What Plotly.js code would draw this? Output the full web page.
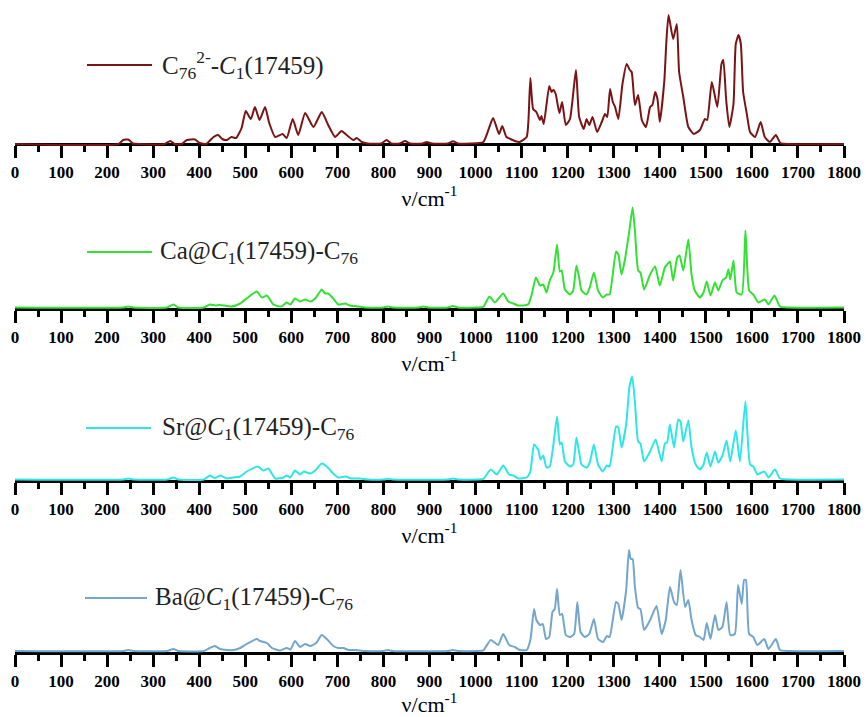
<!DOCTYPE html>
<html>
<head>
<meta charset="utf-8">
<script src="https://cdn.plot.ly/plotly-3.0.1.min.js"></script>
<style>html,body{margin:0;padding:0;background:#fff;}#chart{width:866px;height:717px;}</style>
</head>
<body>
<div id="chart"></div>
<script>
// ---- data (wavenumber in cm^-1, intensity in arbitrary units) ----
const seriesNames = [
  "C<sub>76</sub><sup>2-</sup>-<i>C</i><sub>1</sub>(17459)",
  "Ca@<i>C</i><sub>1</sub>(17459)-C<sub>76</sub>",
  "Sr@<i>C</i><sub>1</sub>(17459)-C<sub>76</sub>",
  "Ba@<i>C</i><sub>1</sub>(17459)-C<sub>76</sub>"
];
const seriesColors = ["#7a1414", "#33e033", "#2ee6e6", "#72a6cc"];

const xC76 = [0,225,235,246,256,270,325,337,347,362,373,391,401,415,431,441,450,460,470,480,492,501,512,521,531,543,552,565,581,590,603,615,630,648,666,680,695,709,720,735,742,753,765,795,807,817,835,847,858,885,894,905,940,951,962,988,1017,1038,1051,1058,1067,1076,1085,1096,1111,1115,1119,1125,1132,1140,1143,1148,1160,1165,1169,1174,1182,1188,1196,1205,1218,1225,1235,1241,1247,1254,1264,1274,1281,1286,1292,1298,1303,1310,1319,1328,1335,1339,1346,1353,1361,1370,1379,1384,1390,1395,1400,1410,1414,1419,1429,1437,1442,1451,1462,1474,1487,1498,1503,1513,1525,1534,1538,1544,1551,1560,1565,1571,1576,1581,1589,1596,1607,1619,1628,1639,1652,1662,1680,1800];
const yC76 = [0,0,4,4.5,0.5,0,0,3,0,0,4,4.5,1,0,7,9,5,4,7,6,16,33,25,37,24,37,21,7,10,6,25,9,31,17,32,19,7,13,9,4,6,2,0.5,0.5,4,0.5,0.5,3,0.5,0.5,2,0.5,0.5,2.7,0.5,0.5,2,26,10,18,7,5,3,2,7,25,66,35,32,24,28,20,58,52,54,50,31,42,19,25,74,27,15,25,19,27,12,22,30,27,55,42,37,25,60,80,74,72,39,49,24,17,37,39,52,45,22,64,100,129,105,120,72,47,17,10,14,25,24,62,37,80,84,45,17,40,100,109,100,52,30,12,7,22,7,2,9,1,0,0];

const xCa = [0,235,246,257,330,344,355,410,423,435,445,470,489,503,525,536,547,561,578,590,598,608,619,630,641,652,666,673,680,691,702,717,727,745,760,800,810,820,877,887,897,940,951,962,1000,1017,1030,1042,1060,1071,1082,1093,1114,1122,1131,1140,1147,1154,1161,1169,1177,1183,1187,1194,1205,1212,1219,1225,1230,1241,1248,1257,1266,1276,1285,1291,1305,1310,1317,1324,1334,1341,1346,1353,1358,1366,1379,1390,1400,1411,1416,1422,1429,1438,1443,1451,1462,1469,1476,1487,1495,1502,1510,1520,1527,1536,1544,1549,1553,1560,1567,1578,1586,1594,1603,1614,1628,1636,1649,1661,1680,1800];
const yCa = [0,0,1,0,0,3,0,0,3,2,2.5,1,4,9,16,10,12,3,1,5,3,9,6,8,6,9,18,14,14,9,3,4,2,1,0,0,1,0,0,1,0,0,1.5,0,0,0.7,11,5,14,6,4,2,3,13,30,22,23,15,27,35,63,36,37,18,13,17,42,30,17,13,20,35,17,10,13,13,56,53,33,47,77,100,77,37,35,18,33,41,22,40,43,46,27,50,52,37,68,33,17,10,15,26,12,25,17,27,30,38,28,47,15,13,77,17,13,5,8,3,12,1,0,0];

const xSr = [0,235,246,257,330,344,355,410,423,434,446,460,474,489,503,528,539,550,565,583,590,598,608,619,627,641,652,666,677,691,702,717,730,750,765,800,810,820,940,951,962,1005,1017,1033,1046,1060,1073,1082,1093,1111,1119,1127,1136,1141,1147,1154,1161,1169,1177,1183,1187,1194,1205,1212,1219,1225,1230,1241,1248,1257,1266,1276,1285,1291,1305,1310,1317,1327,1334,1340,1346,1353,1358,1366,1379,1391,1404,1411,1416,1422,1431,1440,1445,1451,1462,1469,1478,1487,1495,1502,1510,1520,1527,1536,1545,1553,1565,1574,1586,1596,1603,1612,1627,1636,1650,1661,1680,1800];
const ySr = [0,0,1,0,0,2,0,0,4,1.5,4,1,2,3,8,13,9,11,1,2,4,2,9,5,8,6,9,16,13,6,2,3,1,1,0,0,0.7,0,0,1,0,0,0.7,10,5,14,5,4,1,2,8,35,30,20,24,12,13,35,63,35,37,18,13,15,42,27,15,12,17,35,15,8,14,13,53,52,32,55,92,103,78,38,36,18,28,40,18,36,37,55,32,60,58,38,59,32,15,10,15,27,13,28,17,24,39,18,49,18,78,15,13,5,8,2,10,1,0,0];

const xBa = [0,235,246,257,330,344,355,410,423,434,445,460,475,489,503,525,532,547,558,575,590,598,608,619,630,641,654,666,677,691,702,713,725,740,760,800,810,820,940,951,962,1005,1017,1033,1049,1060,1073,1085,1096,1111,1119,1127,1132,1140,1146,1153,1160,1167,1172,1177,1183,1188,1196,1205,1214,1221,1228,1237,1247,1257,1266,1277,1285,1291,1305,1310,1317,1327,1333,1337,1341,1346,1353,1358,1366,1379,1393,1404,1413,1422,1431,1437,1445,1455,1462,1469,1478,1487,1495,1502,1510,1520,1527,1536,1545,1553,1563,1570,1578,1583,1587,1594,1603,1612,1627,1636,1652,1661,1680,1800];
const yBa = [0,0,1,0,0,2,0,0,3,5,2,1,1,3,7,12,10,8,3,0.5,3,1.5,10,4,7,5,8,16,12,5,3,3,1,1,0,0,1,0,0,1,0,0,0.7,11,6,17,6,4,1,1,11,42,31,26,27,12,14,39,42,62,36,37,16,14,17,49,19,14,17,32,12,9,15,14,49,47,31,61,101,92,92,64,43,42,21,31,45,17,31,64,49,46,81,44,51,31,16,14,11,28,12,36,21,24,49,16,17,66,47,71,71,17,14,6,12,2,12,1,0,0];

const xTickVals = [0,100,200,300,400,500,600,700,800,900,1000,1100,1200,1300,1400,1500,1600,1700,1800];
const xTickText = xTickVals.map(String);
const xTitle = "ν/cm<sup>-1</sup>";

// ---- layout helpers ----
const W = 866, H = 717;
const ML = 15, MR = 22;
const axisPx = [144, 309, 481, 652.5];   // pixel row of each panel's x axis
const zeroOff = [0, 1.5, 1.5, 1.5];       // spectrum baseline offset above the axis
const legendY = [65, 252, 428, 598];
const legLine = [[87,152],[87,152],[86,151],[85,147]];
const legTextX = [160, 158, 160, 153];
const fy = px => 1 - px / H;
const fx = px => (px - ML) / (W - ML - MR);
const FONT = "Liberation Serif";

const xs = [xC76, xCa, xSr, xBa];
const ys = [yC76, yCa, ySr, yBa];

const traces = [];
const layout = {
  width: W, height: H,
  margin: {l: ML, r: MR, t: 0, b: 0},
  paper_bgcolor: "#ffffff",
  plot_bgcolor: "rgba(0,0,0,0)",
  showlegend: false,
  font: {family: FONT, size: 16, color: "#000"},
  shapes: [],
  annotations: []
};

for (let i = 0; i < 4; i++) {
  const s = i === 0 ? "" : String(i + 1);
  traces.push({
    type: "scatter", mode: "lines",
    x: xs[i], y: ys[i],
    xaxis: "x" + s, yaxis: "y" + s,
    name: seriesNames[i],
    line: {color: seriesColors[i], width: 2, shape: "spline", smoothing: 0.5},
    hoverinfo: "x+y"
  });
  const zeroPx = axisPx[i] - zeroOff[i];
  const lo = -4, hi = 140;
  layout["yaxis" + s] = {
    domain: [fy(zeroPx - lo), fy(zeroPx - hi)],
    range: [lo, hi],
    visible: false, fixedrange: true
  };
  layout["xaxis" + s] = {
    anchor: "free",
    position: fy(axisPx[i]),
    range: [0, 1800],
    tickvals: xTickVals, ticktext: xTickText,
    ticks: "outside", ticklen: 12, tickwidth: 3, tickcolor: "#000",
    minor: {dtick: 50, tick0: 0, ticks: "outside", ticklen: 6, tickwidth: 3, tickcolor: "#000", showgrid: false},
    showline: true, linewidth: 3, linecolor: "#000",
    showgrid: false, zeroline: false,
    layer: "below traces",
    tickfont: {family: FONT, size: 17, weight: "bold", color: "#000"},
    title: {text: xTitle, font: {family: FONT, size: 22, color: "#000"}, standoff: 0},
    fixedrange: true
  };
  // legend sample line and label
  layout.shapes.push({
    type: "line", xref: "paper", yref: "paper",
    x0: fx(legLine[i][0]), x1: fx(legLine[i][1]),
    y0: fy(legendY[i]), y1: fy(legendY[i]),
    line: {color: seriesColors[i], width: 2}
  });
  layout.annotations.push({
    xref: "paper", yref: "paper",
    x: fx(legTextX[i]), y: fy(legendY[i]),
    xanchor: "left", yanchor: "middle",
    text: seriesNames[i], showarrow: false,
    font: {family: FONT, size: 25, color: "#222"}
  });
}

Plotly.newPlot("chart", traces, layout, {staticPlot: true, displayModeBar: false});
</script>
</body>
</html>
